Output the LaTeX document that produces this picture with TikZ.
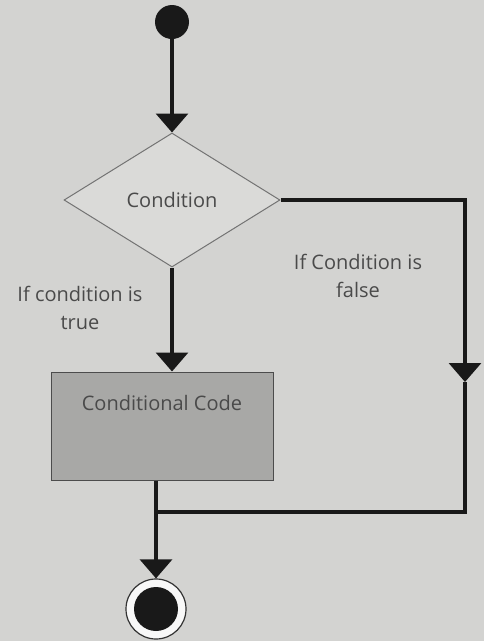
\documentclass[tikz,border=0pt]{standalone}
\usepackage{fontspec}
\setmainfont{Open Sans}
\usetikzlibrary{shapes.geometric,arrows.meta}
\definecolor{bg}{HTML}{D3D3D1}
\definecolor{diafill}{HTML}{DADAD8}
\definecolor{boxfill}{HTML}{A8A8A6}
\definecolor{txt}{HTML}{4A4A4A}
\tikzset{
  flow/.style={line width=3.2pt, draw=black!90},
  tip/.style={-{Triangle[width=32pt,length=19pt]}},
  decision/.style={diamond, draw=black!55, line width=1pt, fill=diafill, minimum width=216pt, minimum height=134pt, aspect=1.6, inner sep=0pt, text=txt},
  codebox/.style={rectangle, draw=black!70, line width=1pt, fill=boxfill, minimum width=222pt, minimum height=108pt, inner sep=0pt},
  lbl/.style={text=txt, align=center, font=\fontsize{20}{28}\selectfont},
  startdot/.style={circle, fill=black!90, minimum size=34pt, inner sep=0pt},
}
\begin{document}
\begin{tikzpicture}[x=1pt,y=-1pt, font=\fontsize{20}{24}\selectfont]
\fill[bg] (0,0) rectangle (484,641);
\useasboundingbox (0,0) rectangle (484,641);
% nodes
\node[startdot] (start) at (172,22) {};
\node[decision] (cond) at (172,200) {Condition};
\node[codebox] (code) at (162,426) {};
\node[anchor=north, text=txt, inner sep=0pt] (codetext) at ([yshift=-24pt]code.north) {Conditional Code};
\node[circle, draw=black!80, line width=1.2pt, fill=white!85!bg, minimum size=60pt, inner sep=0pt] (endo) at (156,609) {};
\node[circle, fill=black!90, minimum size=44pt, inner sep=0pt] (endi) at (endo) {};
% labels
\node[lbl] (ltrue) at (80,308) {If condition is\\true};
\node[lbl] (lfalse) at (358,276) {If Condition is\\false};
% coordinates
\coordinate (rtop) at (465,200);
\coordinate (rmid) at (465,382);
\coordinate (rbot) at (465,512);
\coordinate (join) at (156,512);
% connectors
\draw[flow,tip] (start) -- (cond.north);
\draw[flow,tip] (cond.south) -- (code.north -| cond.south);
\draw[flow,tip] (cond.east) -- (rtop) -- (rmid);
\draw[flow] (rmid) -- (rbot) -- (join);
\draw[flow] (code.south -| join) -- (join);
\draw[flow,tip] (join) -- (endo.north);
\end{tikzpicture}
\end{document}
